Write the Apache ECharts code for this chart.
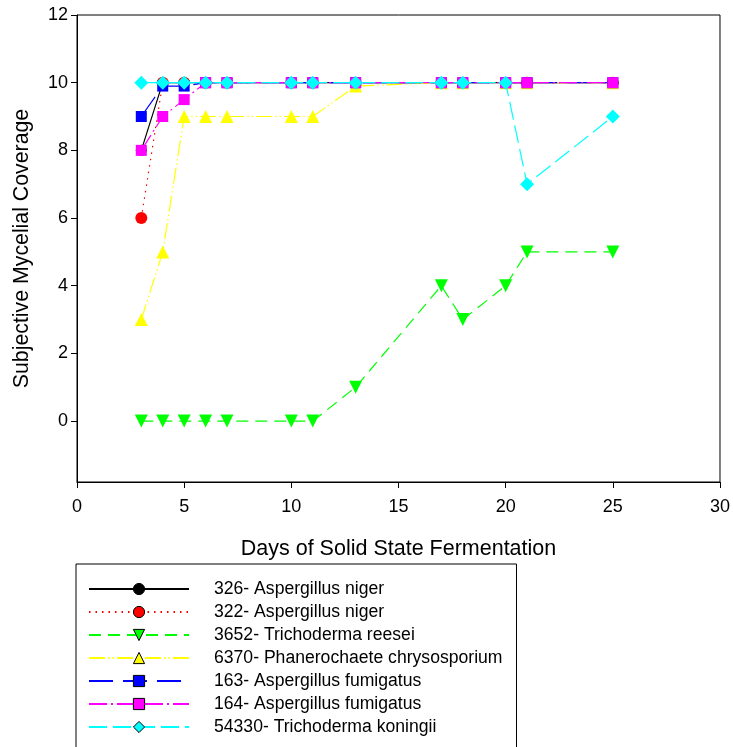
<!DOCTYPE html>
<html>
<head>
<meta charset="utf-8">
<script src="https://cdn.jsdelivr.net/npm/echarts@6/dist/echarts.min.js"></script>
<style>
  html, body { margin: 0; padding: 0; background: #fff; }
  #chart { width: 733px; height: 747px; }
</style>
</head>
<body>
<div id="chart"></div>
<script>
// Sampling days (x values)
const days = [3, 4, 5, 6, 7, 10, 11, 13, 17, 18, 20, 21, 25];

// Subjective mycelial coverage scores per strain
const niger326      = [8, 10, 10, 10, 10, 10, 10, 10, 10, 10, 10, 10, 10];
const niger322      = [6, 10, 10, 10, 10, 10, 10, 10, 10, 10, 10, 10, 10];
const reesei3652    = [0, 0, 0, 0, 0, 0, 0, 1, 4, 3, 4, 5, 5];
const phanero6370   = [3, 5, 9, 9, 9, 9, 9, 9.9, 10, 10, 10, 10, 10];
const fumigatus163  = [9, 9.9, 9.9, 10, 10, 10, 10, 10, 10, 10, 10, 10, 10];
const fumigatus164  = [8, 9, 9.5, 10, 10, 10, 10, 10, 10, 10, 10, 10, 10];
const koningii54330 = [10, 10, 10, 10, 10, 10, 10, 10, 10, 10, 10, 7, 9];

// Axis ticks
const xTicks = [0, 5, 10, 15, 20, 25, 30];
const yTicks = [0, 2, 4, 6, 8, 10, 12];

const seriesNames = [
  '326- Aspergillus niger',
  '322- Aspergillus niger',
  '3652- Trichoderma reesei',
  '6370- Phanerochaete chrysosporium',
  '163- Aspergillus fumigatus',
  '164- Aspergillus fumigatus',
  '54330- Trichoderma koningii'
];

const FONT = '"Liberation Sans", Arial, sans-serif';

function pairs(vals) {
  return days.map((d, i) => [d, vals[i]]);
}

function lineSeries(name, vals, color, dash, symbol, size, rotate) {
  return {
    name: name,
    type: 'line',
    data: pairs(vals),
    symbol: symbol,
    symbolSize: size,
    symbolRotate: rotate || 0,
    showAllSymbol: true,
    animation: false,
    lineStyle: { color: color, width: 1.2, type: dash },
    itemStyle: { color: color, borderWidth: 0 },
    emphasis: { disabled: true }
  };
}

const chart = echarts.init(document.getElementById('chart'), null, { renderer: 'canvas' });

chart.setOption({
  backgroundColor: '#ffffff',
  animation: false,
  textStyle: { fontFamily: FONT },
  grid: {
    left: 77, right: 11, top: 15, bottom: 265,
    show: true, borderColor: '#000', borderWidth: 1, backgroundColor: 'transparent'
  },
  xAxis: {
    type: 'value',
    min: xTicks[0], max: xTicks[xTicks.length - 1], interval: 5,
    name: 'Days of Solid State Fermentation',
    nameLocation: 'middle',
    nameGap: 56,
    nameTextStyle: { fontSize: 21.5, color: '#000', fontFamily: FONT },
    axisLine: { show: true, onZero: false, lineStyle: { color: '#000', width: 1 } },
    axisTick: { show: true, inside: false, length: 6, lineStyle: { color: '#000' } },
    axisLabel: { fontSize: 18, color: '#000', margin: 16, fontFamily: FONT },
    splitLine: { show: false }
  },
  yAxis: {
    type: 'value',
    min: -1.8, max: 12,
    name: 'Subjective Mycelial Coverage',
    nameLocation: 'middle',
    nameGap: 44,
    nameTextStyle: { fontSize: 21.3, color: '#000', fontFamily: FONT },
    axisLine: { show: true, onZero: false, lineStyle: { color: '#000', width: 1 } },
    axisTick: { show: true, inside: false, length: 6, customValues: yTicks, lineStyle: { color: '#000' } },
    axisLabel: { fontSize: 18, color: '#000', margin: 9, customValues: yTicks, fontFamily: FONT },
    splitLine: { show: false }
  },
  legend: {
    show: true,
    orient: 'vertical',
    left: 76, top: 564,
    height: 190,
    padding: [16, 14, 40, 12],
    borderColor: '#000', borderWidth: 1,
    backgroundColor: '#fff',
    itemWidth: 100, itemHeight: 14, itemGap: 5,
    selectedMode: false,
    itemStyle: { borderColor: '#000', borderWidth: 1 },
    textStyle: { fontSize: 17.6, color: '#000', fontFamily: FONT, padding: [0, 0, 0, 20] },
    data: seriesNames
  },
  series: [
    lineSeries(seriesNames[0], niger326, '#000000', 'solid', 'circle', 11),
    lineSeries(seriesNames[1], niger322, '#ff0000', [1.5, 5], 'circle', 12),
    lineSeries(seriesNames[2], reesei3652, '#00ff00', [12, 7], 'triangle', 13, 180),
    lineSeries(seriesNames[3], phanero6370, '#ffff00', [16, 3, 1.5, 3, 1.5, 3], 'triangle', 13),
    lineSeries(seriesNames[4], fumigatus163, '#0000ff', [24, 10], 'rect', 11),
    lineSeries(seriesNames[5], fumigatus164, '#ff00ff', [18, 4, 2, 4], 'rect', 11),
    lineSeries(seriesNames[6], koningii54330, '#00ffff', [18, 6], 'diamond', 14)
  ]
});
</script>
</body>
</html>
